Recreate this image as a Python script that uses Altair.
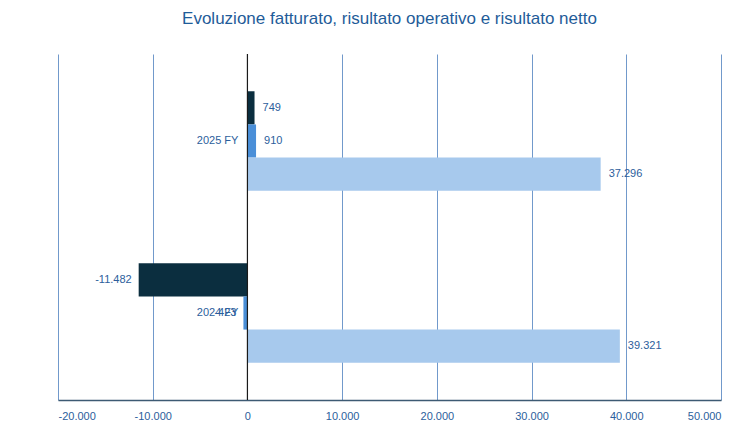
import altair as alt
import pandas as pd

categories = ["2025 FY", "2024 FY"]
series = ["Risultato netto", "Risultato operativo", "Fatturato"]
netto = [749, -11482]
operativo = [910, -423]
fatturato = [37296, 39321]
colors = ["#0B2E3F", "#4A8FD8", "#A7C9ED"]
ticks = [-20000, -10000, 0, 10000, 20000, 30000, 40000, 50000]

rows = []
for i, c in enumerate(categories):
    for s, vals in zip(series, [netto, operativo, fatturato]):
        v = vals[i]
        rows.append({"cat": c, "serie": s, "val": v,
                     "lab": f"{v:,}".replace(",", ".")})
df = pd.DataFrame(rows)
cat_df = pd.DataFrame({"cat": categories, "zero": [0, 0]})

FONT = "Liberation Sans"
TXT = "#2C5E9C"

yscale = alt.Scale(domain=categories, paddingInner=0.4215, paddingOuter=0.2166)
xscale = alt.Scale(domain=[-20000, 50000], nice=False, zero=False)
yoff = alt.YOffset("serie:N", scale=alt.Scale(domain=series, paddingInner=0, paddingOuter=0))

base = alt.Chart(df)

bars = base.mark_bar().encode(
    x=alt.X("val:Q", scale=xscale,
            axis=alt.Axis(values=ticks, title=None, grid=True, gridColor="#7199CB",
                          gridWidth=1, ticks=False, domainColor="#3D5A73", domainWidth=1.6,
                          labelColor=TXT, labelFontSize=11, labelPadding=10, labelFont=FONT,
                          labelExpr="replace(replace(format(datum.value, ','), ',', '.'), '\u2212', '-')")),
    y=alt.Y("cat:N", scale=yscale, axis=None),
    yOffset=yoff,
    color=alt.Color("serie:N", scale=alt.Scale(domain=series, range=colors), legend=None),
)

pos = base.transform_filter("datum.val >= 0").mark_text(
    align="left", dx=8, baseline="middle", font=FONT, fontSize=11, color=TXT
).encode(x=alt.X("val:Q", scale=xscale), y=alt.Y("cat:N", scale=yscale), yOffset=yoff, text="lab:N")

neg = base.transform_filter("datum.val < 0").mark_text(
    align="right", dx=-7, baseline="middle", font=FONT, fontSize=11, color=TXT
).encode(x=alt.X("val:Q", scale=xscale), y=alt.Y("cat:N", scale=yscale), yOffset=yoff, text="lab:N")

zero = alt.Chart(pd.DataFrame({"z": [0]})).mark_rule(color="#1A1A1A", strokeWidth=1.2).encode(
    x=alt.X("z:Q", scale=xscale)
)

catlab = alt.Chart(cat_df).mark_text(
    align="right", dx=-9, baseline="middle", font=FONT, fontSize=11, color=TXT
).encode(x=alt.X("zero:Q", scale=xscale), y=alt.Y("cat:N", scale=yscale), text="cat:N")

chart = alt.layer(bars, zero, pos, neg, catlab).properties(
    width=663, height=346,
    title=alt.TitleParams("Evoluzione fatturato, risultato operativo e risultato netto",
                          color="#1F5C99", fontSize=17, fontWeight="normal", font=FONT,
                          anchor="middle", offset=25),
    autosize=alt.AutoSizeParams(type="none"),
    padding={"left": 50, "top": 46, "right": 20, "bottom": 22},
).configure_view(stroke=None)

chart.save("out.html", embed_options={"renderer": "svg", "actions": False})
